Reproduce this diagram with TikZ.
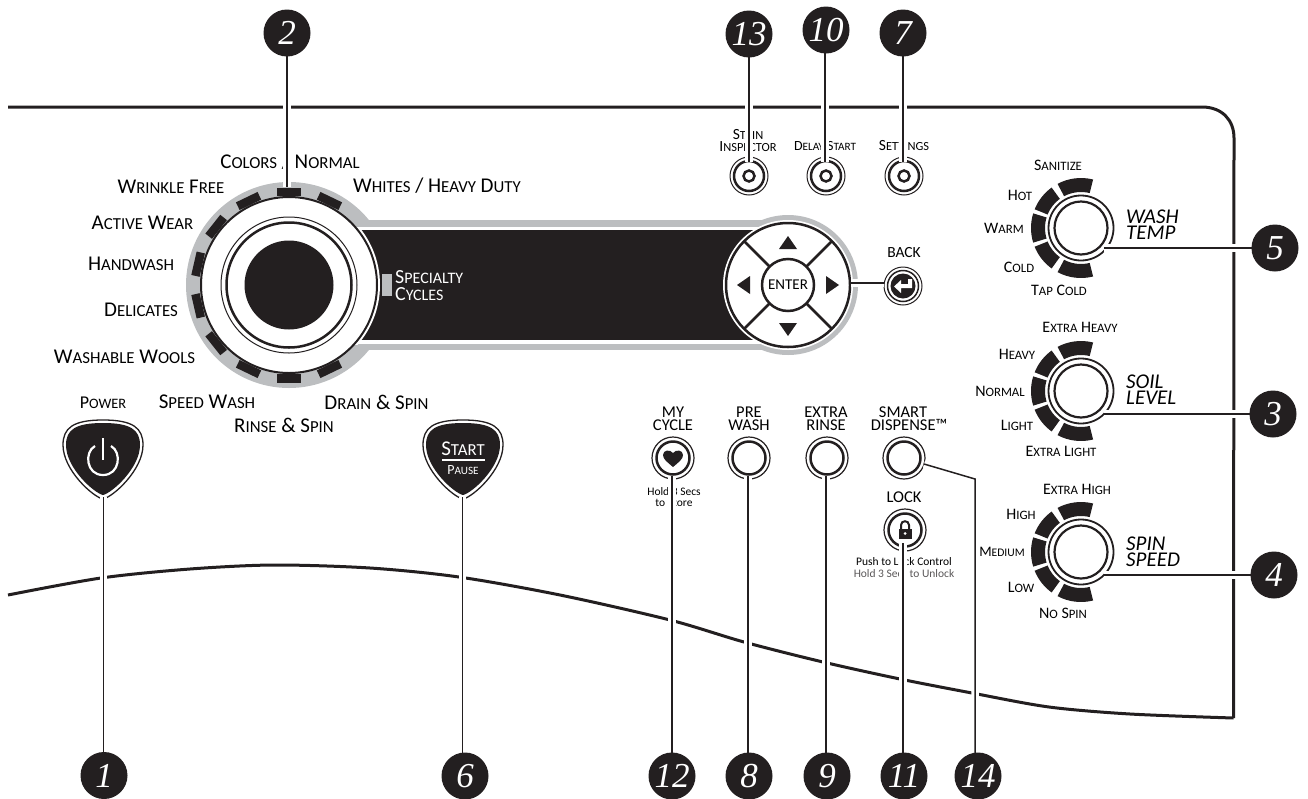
\documentclass[tikz,border=0pt]{standalone}
\usepackage{fontspec}
\setmainfont{Carlito}
\newfontfamily\numfont{Liberation Serif}
\definecolor{ringgray}{HTML}{BCBEC0}
\definecolor{inkblack}{HTML}{231F20}
\newcommand{\sm}[1]{{\addfontfeature{Scale=0.8}#1}}
\newcommand{\ringpart}[5]{%
    \fill[inkblack]
        plot[domain=#3:#4,samples=9] ({#1+36*cos(\x)},{#2-36*sin(\x)}) --
        plot[domain=#4:#3,samples=9] ({#1+#5*cos(\x)},{#2-#5*sin(\x)}) -- cycle;
}
\tikzset{
    label/.style={inner sep=0pt,font=\fontsize{21}{21}\selectfont},
    smalllabel/.style={inner sep=0pt,font=\fontsize{16}{16}\selectfont},
    toplabel/.style={inner sep=0pt,align=center,font=\fontsize{15.5}{12}\selectfont},
    knoblabel/.style={inner sep=0pt,font=\fontsize{16}{16}\selectfont},
    capslabel/.style={inner sep=0pt,align=center,font=\fontsize{16.5}{13}\selectfont},
    knobtitle/.style={inner sep=0pt,align=left,font=\fontsize{21}{16}\selectfont\itshape},
    tinylabel/.style={inner sep=0pt,align=center,font=\fontsize{11.5}{11.5}\selectfont},
    badge/.style={circle,fill=inkblack,text=white,minimum size=47,inner sep=0pt,
        font=\fontsize{35}{35}\selectfont\numfont\itshape},
    leader/.style={draw=white,double=inkblack,double distance=1.5pt,line width=3pt},
    panel/.style={draw=inkblack,line width=3pt},
}
\begin{document}
\begin{tikzpicture}[x=1pt,y=-1pt]
    \useasboundingbox (0,0) rectangle (1308,798);
    \coordinate (dial) at (289,285);
    \coordinate (pad) at (788,285);
    \coordinate (back) at (903,286);

    \draw[panel]
        (8,107) -- (1202,107) .. controls (1222,107) and (1234,120) .. (1234,138)
        -- (1233.5,718);
    \draw[panel]
        plot[smooth] coordinates {(1233.5,718) (1130,714) (1049,707) (972,693)
            (900,679) (823,662) (744,642) (670,620) (560,595) (459,577)
            (370,568) (274,565) (190,569) (101,578) (8,595)};

    \fill[ringgray] (289,220) rectangle (788,350);
    \fill[ringgray] (dial) circle (103);
    \fill[ringgray] (pad) circle (70);
    \fill[white] (340,227) rectangle (788,344);
    \fill[inkblack] (340,230) rectangle (788,340);
    \begin{scope}
        \clip (340,227) rectangle (400,344);
        \fill[white] (dial) circle (91);
    \end{scope}
    \fill[white] (pad) circle (65);

    \foreach \a in {90,64.3,115.7,141.4,167.1,192.9,218.6,244.3,270,295.7} {
        \fill[inkblack,rotate around={\a-90:(dial)}]
            (277,187.5) rectangle (301,196);
    }
    \draw[fill=white,draw=inkblack,line width=2pt] (dial) circle (88);
    \draw[inkblack,line width=1pt] (dial) circle (68);
    \draw[inkblack,line width=2.5pt] (dial) circle (62.5);
    \fill[inkblack] (dial) circle (44.5);
    \fill[ringgray] (381.5,274) rectangle (392,296);
    \node[inner sep=0pt,text=white,align=left,anchor=west,font=\fontsize{20}{17}\selectfont]
        (specialty) at (395,285.5) {S\sm{PECIALTY}\\C\sm{YCLES}};

    \draw[inkblack,fill=white,line width=2.5pt] (pad) circle (62);
    \foreach \a in {45,135,225,315} {
        \draw[inkblack,line width=2.5pt,rotate around={\a:(pad)}]
            (814,285) -- (850,285);
    }
    \node[circle,draw=inkblack,fill=white,line width=2.5pt,minimum size=52,inner sep=0pt,
        font=\fontsize{15}{15}\selectfont] (enter) at (pad) {ENTER};
    \fill[inkblack] (788,236) -- (797,249) -- (779,249) -- cycle;
    \fill[inkblack] (788,336) -- (797,323) -- (779,323) -- cycle;
    \fill[inkblack] (737,285) -- (750,276) -- (750,294) -- cycle;
    \fill[inkblack] (839,285) -- (826,276) -- (826,294) -- cycle;

    \foreach \bx in {749,826,904} {
        \draw[inkblack,line width=1pt] (\bx,176) circle (19);
        \draw[inkblack,line width=2.5pt] (\bx,176) circle (15);
        \draw[inkblack,line width=2.5pt] (\bx,176) circle (5.5);
    }
    \draw[inkblack,line width=1pt] (back) circle (19);
    \draw[inkblack,line width=1.5pt] (back) circle (15.5);
    \fill[inkblack] (back) circle (12.5);
    \fill[white]
        (894,286.5) -- (901,280) -- (901,284) -- (908,284) -- (908,279) -- (912,279)
        -- (912,288) -- (901,288) -- (901,293) -- cycle;

    \foreach \by in {228,391,552} {
        \ringpart{1081}{\by}{76}{118}{50}
        \ringpart{1081}{\by}{126}{158}{50}
        \ringpart{1081}{\by}{163}{197}{50}
        \ringpart{1081}{\by}{202}{234}{50}
        \ringpart{1081}{\by}{242}{284}{50}
        \draw[inkblack,line width=1.8pt] (1081,\by) circle (32.5);
        \draw[inkblack,line width=2.2pt] (1081,\by) circle (26.5);
    }

    \foreach \bx/\by in {673/458,749/458,827/458,904/458,905/530} {
        \draw[inkblack,line width=1.2pt] (\bx,\by) circle (21);
        \draw[inkblack,line width=2.5pt] (\bx,\by) circle (16.5);
    }
    \fill[inkblack]
        (673,467) .. controls (667,462) and (663,459) .. (663,455)
        .. controls (663,450) and (670,449) .. (673,453)
        .. controls (676,449) and (683,450) .. (683,455)
        .. controls (683,459) and (679,462) .. (673,467);
    \draw[inkblack,line width=2pt] (901,529) -- (901,525)
        .. controls (901,520) and (909,520) .. (909,525) -- (909,529);
    \fill[inkblack] (898.5,529) rectangle (911.5,539);
    \fill[white] (905,533.5) circle (1.5);

    \foreach \bx in {103,463} {
        \begin{scope}[shift={(\bx,0)}]
            \draw[inkblack,fill=white,line width=1.3pt]
                (0,499) .. controls (-10,497) and (-40,470) .. (-40,445)
                .. controls (-40,428) and (-30,420) .. (0,420)
                .. controls (30,420) and (40,428) .. (40,445)
                .. controls (40,470) and (10,497) .. (0,499) -- cycle;
            \fill[inkblack]
                (0,495) .. controls (-9,493) and (-37,468) .. (-37,445)
                .. controls (-37,430) and (-28,423) .. (0,423)
                .. controls (28,423) and (37,430) .. (37,445)
                .. controls (37,468) and (9,493) .. (0,495) -- cycle;
        \end{scope}
    }
    \draw[white,line width=2.2pt]
        (95,446) .. controls (84,452) and (86,475) .. (103,475)
        .. controls (120,475) and (122,452) .. (111,446);
    \draw[white,line width=2.2pt] (103,438) -- (103,460);
    \draw[white,line width=1.5pt] (442,460) -- (485,460);
    \node[inner sep=0pt,text=white,font=\fontsize{21}{21}\selectfont] (start) at (463,449) {S\sm{TART}};
    \node[inner sep=0pt,text=white,font=\fontsize{14}{14}\selectfont] (pause) at (463,470) {P\sm{AUSE}};

    \node[label] (colors) at (290,162) {C\sm{OLORS} / N\sm{ORMAL}};
    \node[label] (wrinkle) at (171,187) {W\sm{RINKLE} F\sm{REE}};
    \node[label] (whites) at (437,186) {W\sm{HITES} / H\sm{EAVY} D\sm{UTY}};
    \node[label] (active) at (142.5,223) {A\sm{CTIVE} W\sm{EAR}};
    \node[label] (handwash) at (131,264) {H\sm{ANDWASH}};
    \node[label] (delicates) at (141,310) {D\sm{ELICATES}};
    \node[label] (wools) at (124.5,357) {W\sm{ASHABLE} W\sm{OOLS}};
    \node[label] (speed) at (207,402) {S\sm{PEED} W\sm{ASH}};
    \node[label] (drain) at (376.5,402) {D\sm{RAIN} \& S\sm{PIN}};
    \node[label] (rinse) at (284,425) {R\sm{INSE} \& S\sm{PIN}};
    \node[smalllabel,font=\fontsize{18}{18}\selectfont] (power) at (103,403) {P\sm{OWER}};

    \node[toplabel] (stain) at (748,141) {S\sm{TAIN}\\I\sm{NSPECTOR}};
    \node[toplabel,font=\fontsize{14}{12}\selectfont] (delay) at (825,146) {D\sm{ELAY} S\sm{TART}};
    \node[toplabel] (settings) at (904,146) {S\sm{ETTINGS}};
    \node[toplabel] (backtext) at (904,253) {BACK};

    \node[knoblabel] (sanitize) at (1058,165) {S\sm{ANITIZE}};
    \node[knoblabel] (hot) at (1020,195) {H\sm{OT}};
    \node[knoblabel] (warm) at (1004,228) {W\sm{ARM}};
    \node[knoblabel] (cold) at (1019,267) {C\sm{OLD}};
    \node[knoblabel] (tapcold) at (1059,290) {T\sm{AP} C\sm{OLD}};
    \node[knobtitle,anchor=west] (washtemp) at (1126,225) {WASH\\TEMP};

    \node[knoblabel] (xheavy) at (1080,327) {E\sm{XTRA} H\sm{EAVY}};
    \node[knoblabel] (heavy) at (1017,354) {H\sm{EAVY}};
    \node[knoblabel] (normal) at (1000,391) {N\sm{ORMAL}};
    \node[knoblabel] (light) at (1017,425) {L\sm{IGHT}};
    \node[knoblabel] (xlight) at (1061,451) {E\sm{XTRA} L\sm{IGHT}};
    \node[knobtitle,anchor=west] (soillevel) at (1126,389.5) {SOIL\\LEVEL};

    \node[knoblabel] (xhigh) at (1077,489) {E\sm{XTRA} H\sm{IGH}};
    \node[knoblabel] (high) at (1021,514) {H\sm{IGH}};
    \node[knoblabel,font=\fontsize{14.5}{14.5}\selectfont] (medium) at (1002,552) {M\sm{EDIUM}};
    \node[knoblabel] (low) at (1021,587) {L\sm{OW}};
    \node[knoblabel] (nospin) at (1063,613) {N\sm{O} S\sm{PIN}};
    \node[knobtitle,anchor=west] (spinspeed) at (1126,551.5) {SPIN\\SPEED};

    \node[capslabel] (mycycle) at (673,419) {MY\\CYCLE};
    \node[capslabel] (prewash) at (749,419) {PRE\\WASH};
    \node[capslabel] (xrinse) at (826,419) {EXTRA\\RINSE};
    \node[capslabel] (smart) at (909,419) {SMART\hspace*{12pt}\\DISPENSE™};
    \node[capslabel] (lock) at (904,497) {LOCK};
    \node[tinylabel] (store) at (674,497) {Hold 3 Secs\\to Store};
    \node[tinylabel] (pushlock) at (904,567.5) {Push to Lock Control\\\textcolor{inkblack!75}{Hold 3 Secs to Unlock}};

    \coordinate (c1) at (103.5,497);
    \coordinate (c2) at (287,187);
    \coordinate (c3) at (1104,414);
    \coordinate (c4) at (1104,575);
    \coordinate (c5) at (1104,248);
    \coordinate (c6) at (462.5,497);
    \coordinate (c7) at (903,162);
    \coordinate (c8) at (748,476);
    \coordinate (c9) at (826,476);
    \coordinate (c10) at (825,162);
    \coordinate (c11) at (903,543);
    \coordinate (c12) at (672,476);
    \coordinate (c13) at (749,162);
    \coordinate (c14) at (924,464);
    \coordinate (k14) at (975,479);
    \coordinate (cback) at (884,283);
    \coordinate (cpad) at (851,283);

    \draw[leader] (c1) -- (103.5,753);
    \draw[leader] (c2) -- (287,56);
    \draw[leader] (c3) -- (1251,414);
    \draw[leader] (c4) -- (1251,575);
    \draw[leader] (c5) -- (1252,248);
    \draw[leader] (c6) -- (462.5,753);
    \draw[leader] (c7) -- (903,55);
    \draw[leader] (c8) -- (748,753);
    \draw[leader] (c9) -- (826,753);
    \draw[leader] (c10) -- (825,53);
    \draw[leader] (c11) -- (903,753);
    \draw[leader] (c12) -- (672,753);
    \draw[leader] (c13) -- (749,56);
    \draw[leader] (c14) -- (k14) -- (975,753);
    \draw[leader] (cpad) -- (cback);

    \node[badge] (n1) at (104,775.5) {1};
    \node[badge] (n2) at (287,33) {2};
    \node[badge] (n3) at (1273,414) {3};
    \node[badge] (n4) at (1274,575) {4};
    \node[badge] (n5) at (1275,248) {5};
    \node[badge] (n6) at (465,776) {6};
    \node[badge] (n7) at (903,33) {7};
    \node[badge] (n8) at (749,776) {8};
    \node[badge] (n9) at (827,776) {9};
    \node[badge] (n10) at (826,30) {10};
    \node[badge] (n11) at (904,776) {11};
    \node[badge] (n12) at (672,776) {12};
    \node[badge] (n13) at (749,34) {13};
    \node[badge] (n14) at (978,776) {14};
\end{tikzpicture}
\end{document}
